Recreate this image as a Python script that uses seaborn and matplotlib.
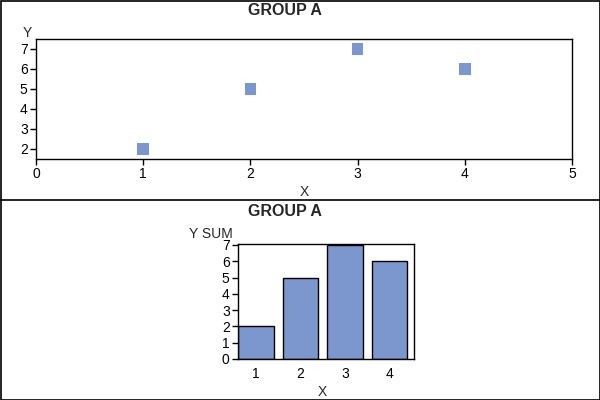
import matplotlib
matplotlib.use('Agg')
import matplotlib.pyplot as plt
import matplotlib.patches as mpatches
import matplotlib.lines as mlines
import pandas as pd
import seaborn as sns

x_vals = [1, 2, 3, 4]
y_vals = [2, 5, 7, 6]
group_title = 'GROUP A'

BLUE = '#7C97CD'

sns.set_style('ticks')
plt.rcParams['font.family'] = ['Liberation Sans', 'DejaVu Sans']
plt.rcParams['axes.linewidth'] = 1.0
plt.rcParams['xtick.major.size'] = 4
plt.rcParams['ytick.major.size'] = 4
plt.rcParams['xtick.major.width'] = 1.0
plt.rcParams['ytick.major.width'] = 1.0
plt.rcParams['xtick.color'] = 'black'
plt.rcParams['ytick.color'] = 'black'
plt.rcParams['axes.edgecolor'] = 'black'

df = pd.DataFrame({'X': x_vals, 'Y': y_vals})

fig = plt.figure(figsize=(6, 4), dpi=100)

# outer frame and panel divider
fig.patches.append(mpatches.Rectangle((0.5 / 600, 0.5 / 400), 599 / 600, 399 / 400,
                                      transform=fig.transFigure, fill=False,
                                      edgecolor='black', linewidth=1.2))
fig.lines.append(mlines.Line2D([0, 1], [200.5 / 400, 200.5 / 400],
                               transform=fig.transFigure, color='black', linewidth=1.2))

# top panel: scatter
ax1 = fig.add_axes([36 / 600, (400 - 159) / 400, 536 / 600, 120 / 400])
sns.scatterplot(data=df, x='X', y='Y', marker='s', s=70, color=BLUE,
                edgecolor='none', ax=ax1)
ax1.set_xlim(0, 5)
ax1.set_ylim(1.5, 7.5)
ax1.set_xticks([0, 1, 2, 3, 4, 5])
ax1.set_yticks([2, 3, 4, 5, 6, 7])
ax1.tick_params(labelsize=10, pad=2)
ax1.set_xlabel('')
ax1.set_ylabel('')
fig.text(304 / 600, 1 - 196 / 400, 'X', ha='center', va='baseline', fontsize=10)
fig.text(27 / 600, 1 - 37 / 400, 'Y', ha='center', va='baseline', fontsize=10)
fig.text(285 / 600, 1 - 15 / 400, group_title, ha='center', va='baseline',
         fontsize=11.5, fontweight='bold')

# bottom panel: bar chart of Y sum
ax2 = fig.add_axes([238 / 600, 41 / 400, 176 / 600, 115 / 400])
sns.barplot(data=df, x='X', y='Y', estimator='sum', errorbar=None, color=BLUE,
            saturation=1, width=0.8, edgecolor='black', linewidth=1.0, ax=ax2)
ax2.set_xlim(-0.4, 3.55)
ax2.set_ylim(0, 7.06)
ax2.set_yticks(range(0, 8))
ax2.tick_params(labelsize=10, pad=2)
ax2.tick_params(axis='x', length=0, pad=6)
ax2.set_xlabel('')
ax2.set_ylabel('')
fig.text(322 / 600, 1 - 396 / 400, 'X', ha='center', va='baseline', fontsize=10)
fig.text(211 / 600, 1 - 238 / 400, 'Y SUM', ha='center', va='baseline', fontsize=10)
fig.text(285 / 600, 1 - 216 / 400, group_title, ha='center', va='baseline',
         fontsize=11.5, fontweight='bold')

fig.savefig('out.png', dpi=100)
